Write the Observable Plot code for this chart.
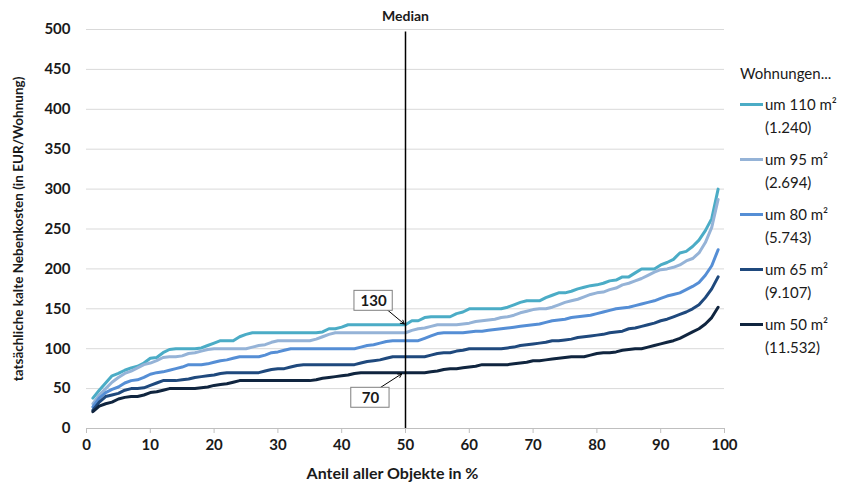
<!DOCTYPE html>
<html><head><meta charset="utf-8">
<script src="https://cdn.jsdelivr.net/npm/d3@7"></script>
<script src="https://cdn.jsdelivr.net/npm/@observablehq/plot@0.6"></script>
<style>
body{margin:0;background:#fff;font-family:Lato,"Open Sans",sans-serif;}
#wrap{position:relative;width:850px;height:502px;}
#legend{position:absolute;left:740px;top:62px;font-size:15px;color:#1a1a1a;line-height:23px;}
.item{position:relative;height:46px;margin-bottom:9px;padding-left:25px;}
.sw{position:absolute;left:0;top:10px;width:23px;height:3px;}
</style></head>
<body><div id="wrap"><div id="legend"></div></div>
<script>
const pct = d3.range(1, 100);
const names = ["um 110 m²", "um 95 m²", "um 80 m²", "um 65 m²", "um 50 m²"];
const counts = ["(1.240)", "(2.694)", "(5.743)", "(9.107)", "(11.532)"];
const colors = ["#4bacc6", "#95b3d7", "#558ed5", "#1f497d", "#10253f"];
const s110 = [38,48,57,66,69,73,76,78,82,88, 89,95,99,100,100,100,100,101,104,107, 110,110,110,115,118,120,120,120,120,120, 120,120,120,120,120,120,121,125,125,127, 130,130,130,130,130,130,130,130,130,130, 135,135,139,140,140,140,140,144,146,150, 150,150,150,150,150,152,155,158,160,160, 160,164,167,170,170,172,175,177,179,180, 182,185,186,190,190,195,200,200,200,205, 208,212,220,222,228,236,248,263,300];
const s95 = [31,42,50,58,64,69,72,76,80,82, 85,89,90,90,91,94,95,97,99,100, 100,100,100,100,100,102,104,105,108,110, 110,110,110,110,110,112,115,118,120,120, 120,120,120,120,120,120,120,120,120,120, 123,125,126,128,130,130,130,130,131,132, 134,135,136,137,139,140,142,145,147,149, 150,150,152,155,158,160,162,165,168,170, 171,174,176,180,182,185,188,192,196,199, 200,202,205,210,213,220,233,252,287];
const s80 = [27,38,45,49,52,57,60,61,64,68, 70,71,73,75,77,80,80,80,81,83, 85,86,88,90,90,90,90,92,95,96, 98,100,100,100,100,100,100,100,100,100, 100,100,102,104,105,107,109,110,110,110, 110,110,113,116,119,120,120,120,120,121, 122,122,123,124,125,126,127,128,129,130, 131,133,135,136,137,139,140,141,142,144, 146,148,150,151,152,154,156,158,160,163, 166,168,170,174,178,183,192,204,224];
const s65 = [23,33,40,42,44,48,50,50,51,54, 57,60,60,60,61,62,64,65,66,67, 69,70,70,70,70,70,70,72,74,75, 75,77,79,80,80,80,80,80,80,80, 80,80,82,84,85,86,88,90,90,90, 90,90,90,92,94,95,95,97,98,100, 100,100,100,100,100,101,102,104,105,106, 107,108,110,110,111,112,114,115,116,117, 118,120,121,122,125,126,128,130,132,135, 137,140,143,146,150,155,164,175,190];
const s50 = [21,28,31,33,37,39,40,40,42,45, 46,48,50,50,50,50,50,51,52,54, 55,56,58,60,60,60,60,60,60,60, 60,60,60,60,60,61,63,64,65,66, 67,69,70,70,70,70,70,70,70,70, 70,70,70,71,72,74,75,75,76,77, 78,80,80,80,80,80,81,82,83,85, 85,86,87,88,89,90,90,90,92,94, 95,95,96,98,99,100,100,102,104,106, 108,110,113,117,121,125,131,139,152];
const xTicks = [0,10,20,30,40,50,60,70,80,90,100];
const yTicks = [0,50,100,150,200,250,300,350,400,450,500];
const medianX = [50];
const annLabels = ["130", "70"];
const annX = [45, 44.5];
const annY = [160, 38.5];
const arrowFromX = [47.1, 46.0];
const arrowFromY = [149, 51];
const arrowToX = [49.8, 49.4];
const arrowToY = [131, 68.5];
const xLabel = "Anteil aller Objekte in %";
const yLabel = "tatsächliche kalte Nebenkosten (in EUR/Wohnung)";
const legendTitle = "Wohnungen...";

const allSeries = [s110, s95, s80, s65, s50];
const rows = allSeries.flatMap((vals, k) => vals.map((v, i) => ({pct: pct[i], value: v, series: names[k]})));
const ann = annLabels.map((t, i) => ({t, x: annX[i], y: annY[i], x1: arrowFromX[i], y1: arrowFromY[i], x2: arrowToX[i], y2: arrowToY[i]}));

const chart = Plot.plot({
  width: 850, height: 502,
  marginLeft: 86, marginRight: 126, marginTop: 29, marginBottom: 74,
  style: {fontFamily: "Lato, 'Open Sans', sans-serif", fontSize: "14px", color: "#1a1a1a", background: "#fff"},
  x: {domain: [0, 100]},
  y: {domain: [0, 500]},
  color: {domain: names, range: colors},
  marks: [
    Plot.gridY(yTicks.filter(d => d > 0), {stroke: "#d9d9d9", strokeOpacity: 1, strokeWidth: 1}),
    Plot.ruleY([0], {stroke: "#bfbfbf"}),
    Plot.axisX({ticks: xTicks, tickSize: 5, stroke: "#bfbfbf", tickPadding: 6, fontWeight: "bold", fontSize: 15, label: null}),
    Plot.axisY({ticks: yTicks, tickSize: 0, tickPadding: 16, fontWeight: "bold", fontSize: 15, label: null}),
    Plot.text([xLabel], {frameAnchor: "bottom", dy: 50, dx: -13, fontWeight: "bold", fontSize: 16}),
    Plot.text([yLabel], {frameAnchor: "left", textAnchor: "middle", dx: -68, rotate: -90, fontWeight: "bold", fontSize: 13.5}),
    Plot.line(rows, {x: "pct", y: "value", z: "series", stroke: "series", strokeWidth: 3, strokeLinejoin: "round"}),
    Plot.ruleX(medianX, {y1: 0, y2: 497, stroke: "#000", strokeWidth: 1.5}),
    Plot.text(["Median"], {x: medianX[0], y: 500, dy: -13, fontWeight: "bold", fontSize: 14}),
    Plot.arrow(ann, {x1: "x1", y1: "y1", x2: "x2", y2: "y2", stroke: "#000", strokeWidth: 1, headLength: 6, bend: false}),
    Plot.rect(ann, {x1: d => d.x - 3.0, x2: d => d.x + 3.0, y1: d => d.y - 12.5, y2: d => d.y + 12.5, fill: "#fff", stroke: "#7f7f7f", strokeWidth: 1}),
    Plot.text(ann, {x: "x", y: "y", text: "t", fontWeight: "bold", fontSize: 15})
  ]
});
const wrap = document.getElementById("wrap");
wrap.insertBefore(chart, wrap.firstChild);

const legend = d3.select("#legend");
legend.append("div").style("height", "23px").style("margin-bottom", "8px").text(legendTitle);
names.forEach((n, i) => {
  const it = legend.append("div").attr("class", "item");
  it.append("div").attr("class", "sw").style("background", colors[i]);
  it.append("div").text(n);
  it.append("div").text(counts[i]);
});
</script></body></html>
